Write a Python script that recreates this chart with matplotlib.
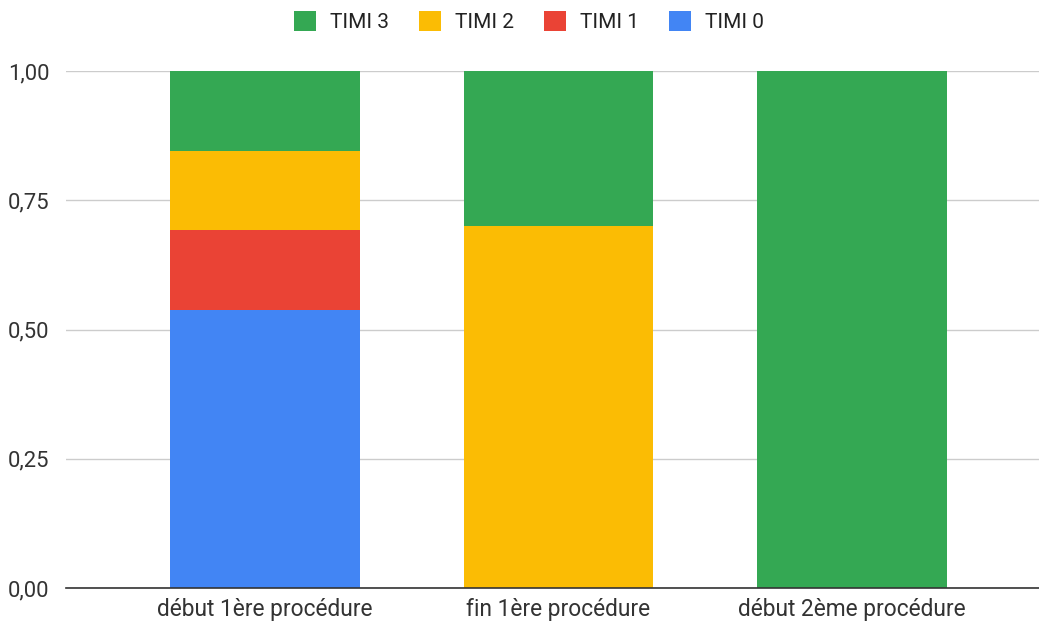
import matplotlib
matplotlib.use("Agg")
import matplotlib.pyplot as plt
from matplotlib.patches import Patch
from matplotlib.ticker import FixedLocator

plt.rcParams['font.family'] = ['Roboto', 'DejaVu Sans']

categories = ["début 1ère procédure", "fin 1ère procédure", "début 2ème procédure"]
series_names = ["TIMI 0", "TIMI 1", "TIMI 2", "TIMI 3"]
timi0 = [0.538, 0.0, 0.0]
timi1 = [0.154, 0.0, 0.0]
timi2 = [0.154, 0.70, 0.0]
timi3 = [0.154, 0.30, 1.0]
yticks = [0.0, 0.25, 0.5, 0.75, 1.0]
ytick_labels = ["0,00", "0,25", "0,50", "0,75", "1,00"]

colors = {"TIMI 0": "#4285F4", "TIMI 1": "#EA4335", "TIMI 2": "#FBBC04", "TIMI 3": "#34A853"}

fig = plt.figure(figsize=(10.39, 6.25), dpi=100)
ax = fig.add_axes([66/1039, 37/625, (1039-66)/1039, (588-71)/625])

x = list(range(len(categories)))
bottom = [0.0]*3
for name, vals in zip(series_names, [timi0, timi1, timi2, timi3]):
    ax.bar(x, vals, width=0.647, bottom=bottom, color=colors[name], zorder=3)
    bottom = [b + v for b, v in zip(bottom, vals)]

ax.set_xlim(-0.678, 2.637)
ax.set_ylim(0, 1)
ax.yaxis.set_major_locator(FixedLocator(yticks))
ax.set_yticklabels(ytick_labels)
ax.set_xticks(x)
ax.set_xticklabels(categories)
ax.grid(axis='y', color='#cccccc', linewidth=1, zorder=0)
for s in ["top", "right", "left"]:
    ax.spines[s].set_visible(False)
ax.spines["bottom"].set_color("#333333")
ax.spines["bottom"].set_linewidth(1.2)
ax.spines["bottom"].set_zorder(4)
ax.tick_params(axis='y', length=0, labelsize=15.8, colors='#333333', pad=12)
ax.tick_params(axis='x', length=0, labelsize=16.4, colors='#333333', pad=7)

handles = [Patch(facecolor=colors[n], label=n) for n in ["TIMI 3", "TIMI 2", "TIMI 1", "TIMI 0"]]
fig.legend(handles=handles, loc='center', bbox_to_anchor=(529/1039, 1 - 21.5/625), ncol=4,
           frameon=False, fontsize=15, handlelength=1.06, handleheight=1.06,
           handletextpad=0.67, columnspacing=1.44, labelcolor='#222222',
           borderpad=0, borderaxespad=0)

fig.savefig("out.png", dpi=100)
